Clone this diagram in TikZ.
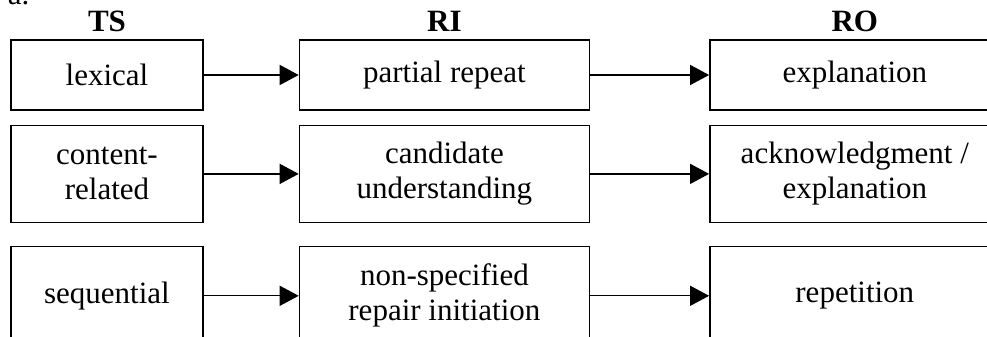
\documentclass[tikz,border=0pt]{standalone}
\usepackage{fontspec}
\setmainfont{Liberation Serif}
\usetikzlibrary{positioning}
\usetikzlibrary{arrows.meta}

\begin{document}
\begin{tikzpicture}
          [x=1pt, y=1pt, line width=1.4pt,
           every node/.style={font=\fontsize{31}{35}\selectfont, align=center, inner sep=0pt},
           cell/.style={draw, minimum height=70pt},
           narrow/.style={minimum width=192pt},
           wide/.style={minimum width=290pt},
           head/.style={font=\fontsize{31}{35}\selectfont\bfseries},
           link/.style={-{Triangle[length=19pt, width=20pt]}}]
          \useasboundingbox (0,0) rectangle (987,337);
          \clip (0,0) rectangle (987,337);

          \node (tag) [anchor=base east] at (30,332) {a.};

          % first row
          \node (ts1) [cell, narrow] at (107,262) {lexical};
          \node (ri1) [cell, wide, right = 95pt of ts1] {partial repeat};
          \node (ro1) [cell, wide, right = 119pt of ri1] {explanation};

          % second row
          \node (ts2) [cell, narrow, minimum height=97pt, below = 14pt of ts1] {content-\\related};
          \node (ri2) [cell, wide, minimum height=97pt, right = 95pt of ts2] {candidate\\understanding};
          \node (ro2) [cell, wide, minimum height=97pt, right = 119pt of ri2] {acknowledgment /\\explanation};

          % third row
          \node (ts3) [cell, narrow, minimum height=98pt, below = 23pt of ts2] {sequential};
          \node (ri3) [cell, wide, minimum height=98pt, right = 95pt of ts3] {non-specified\\repair initiation};
          \node (ro3) [cell, wide, minimum height=98pt, right = 119pt of ri3] {repetition};

          % column heads
          \node (ts) [head, above = 7pt of ts1] {TS};
          \node (ri) [head, above = 7pt of ri1] {RI};
          \node (ro) [head, above = 7pt of ro1] {RO};

          \draw[link] (ts1) -- (ri1);
          \draw[link] (ri1) -- (ro1);
          \draw[link] (ts2) -- (ri2);
          \draw[link] (ri2) -- (ro2);
          \draw[link] (ts3) -- (ri3);
          \draw[link] (ri3) -- (ro3);
        \end{tikzpicture}
\end{document}
